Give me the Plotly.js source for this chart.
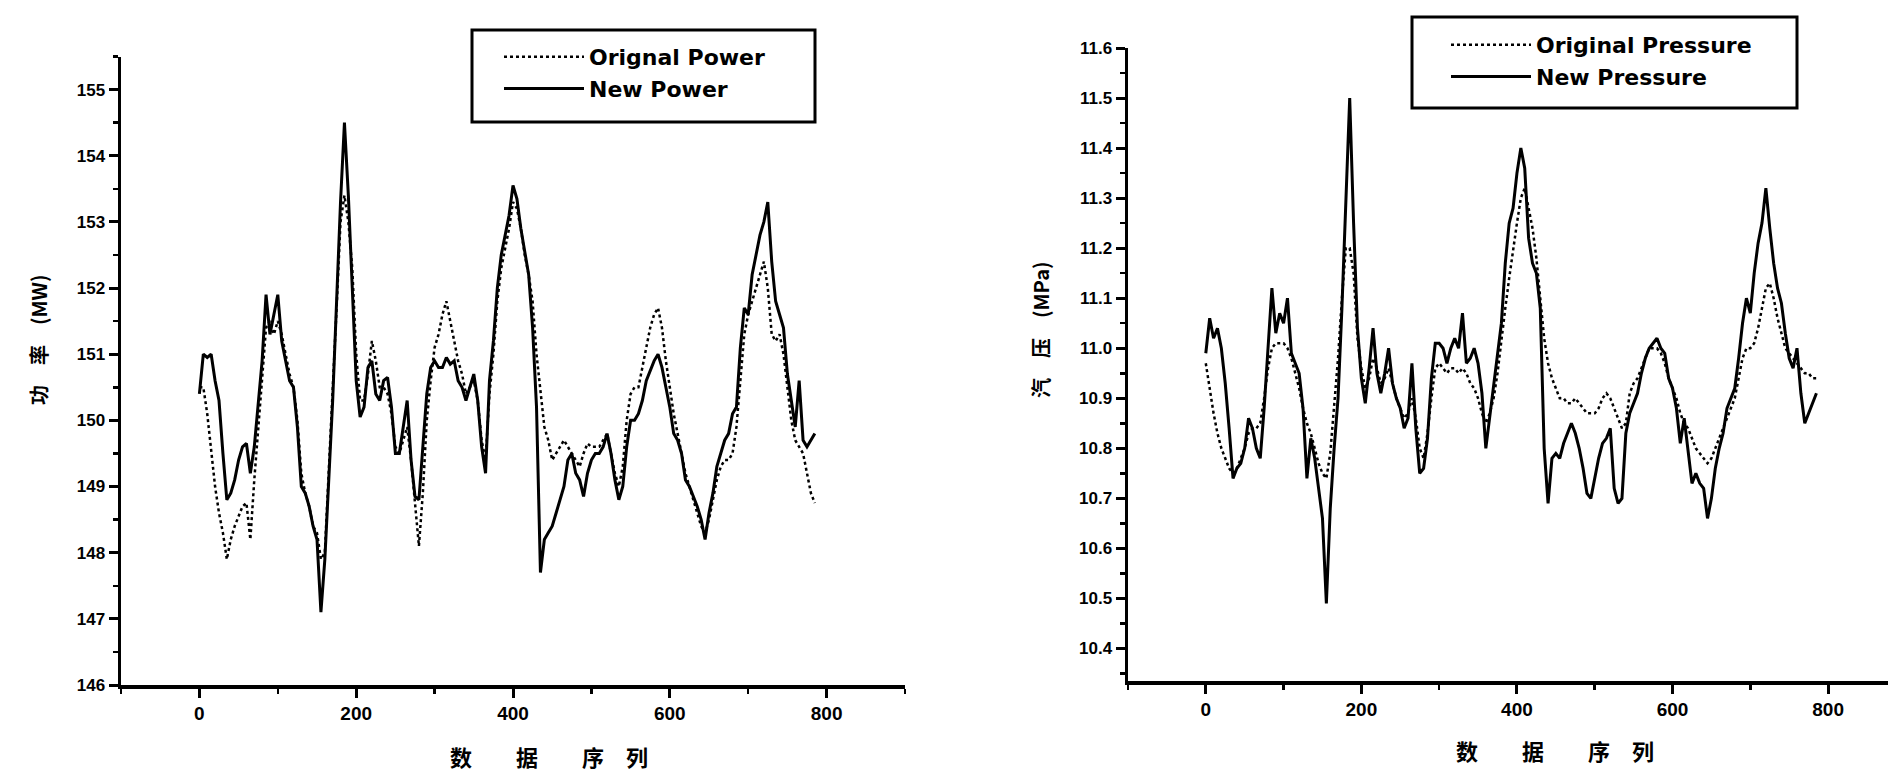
<!DOCTYPE html>
<html>
<head>
<meta charset="utf-8">
<script src="https://cdn.plot.ly/plotly-3.0.1.min.js"></script>
<style>html,body{margin:0;padding:0;background:#fff;}#chart{width:1888px;height:772px;}</style>
</head>
<body>
<div id="chart"></div>
<script>
// sample index: 0, 5, 10, ... 785
const sampleStart = 0;
const sampleStep = 5;

const originalPower = [
  150.5,150.5,150.1,149.5,149.0,148.6,148.3,147.9,148.2,148.4,
  148.55,148.7,148.75,148.2,149.1,149.9,150.7,151.4,151.5,151.3,
  151.5,151.3,151.0,150.7,150.5,150.0,149.2,148.9,148.7,148.4,
  148.3,147.9,148.0,149.2,150.3,151.7,153.0,153.4,153.0,152.3,
  151.0,150.3,150.3,150.7,151.2,150.9,150.5,150.5,150.4,150.1,
  149.6,149.5,149.7,149.9,149.4,148.8,148.1,148.9,150.0,150.6,
  151.1,151.3,151.6,151.8,151.5,151.2,150.9,150.7,150.4,150.5,
  150.6,150.3,149.7,149.4,150.4,151.0,151.8,152.3,152.6,152.9,
  153.3,153.2,152.9,152.5,152.2,151.8,151.0,150.4,149.9,149.7,
  149.4,149.5,149.6,149.7,149.6,149.5,149.4,149.3,149.5,149.65,
  149.6,149.6,149.6,149.7,149.8,149.5,149.2,149.0,149.3,150.0,
  150.4,150.5,150.5,150.8,151.1,151.4,151.6,151.7,151.4,150.9,
  150.5,150.1,149.8,149.5,149.2,149.0,148.8,148.6,148.4,148.3,
  148.5,148.8,149.1,149.3,149.4,149.4,149.5,149.9,150.6,151.3,
  151.6,151.8,152.0,152.2,152.4,152.0,151.3,151.2,151.3,151.0,
  150.5,150.0,149.7,149.6,149.5,149.2,148.9,148.75
];
const newPower = [
  150.4,151.0,150.95,151.0,150.6,150.3,149.5,148.8,148.9,149.1,
  149.4,149.6,149.65,149.2,149.6,150.2,150.9,151.9,151.3,151.6,
  151.9,151.2,150.9,150.6,150.5,149.9,149.0,148.9,148.7,148.4,
  148.2,147.1,147.9,149.1,150.3,151.8,153.3,154.5,153.4,152.0,
  150.6,150.05,150.2,150.8,150.9,150.4,150.3,150.6,150.65,150.2,
  149.5,149.5,149.9,150.3,149.4,148.85,148.8,149.6,150.4,150.8,
  150.9,150.8,150.8,150.95,150.85,150.9,150.6,150.5,150.3,150.5,
  150.7,150.3,149.6,149.2,150.6,151.2,152.0,152.5,152.8,153.1,
  153.55,153.35,152.9,152.55,152.2,151.4,150.2,147.7,148.2,148.3,
  148.4,148.6,148.8,149.0,149.4,149.5,149.2,149.1,148.85,149.2,
  149.4,149.5,149.5,149.6,149.8,149.5,149.1,148.8,149.0,149.6,
  150.0,150.0,150.1,150.3,150.6,150.75,150.9,151.0,150.8,150.5,
  150.2,149.8,149.7,149.5,149.1,149.0,148.85,148.7,148.5,148.2,
  148.6,148.9,149.3,149.5,149.7,149.8,150.1,150.2,151.1,151.7,
  151.6,152.2,152.5,152.8,153.0,153.3,152.4,151.8,151.6,151.4,
  150.7,150.3,149.9,150.6,149.7,149.6,149.7,149.8
];
const originalPressure = [
  10.97,10.92,10.87,10.83,10.80,10.78,10.76,10.75,10.76,10.78,
  10.80,10.83,10.84,10.84,10.85,10.90,10.96,11.00,11.01,11.01,
  11.01,11.00,10.98,10.95,10.92,10.88,10.85,10.83,10.80,10.77,
  10.75,10.74,10.79,10.88,10.98,11.10,11.20,11.20,11.15,11.02,
  10.96,10.92,10.94,10.98,10.96,10.93,10.94,10.96,10.93,10.90,
  10.88,10.86,10.87,10.90,10.86,10.80,10.78,10.83,10.90,10.96,
  10.97,10.96,10.95,10.96,10.96,10.95,10.96,10.95,10.93,10.92,
  10.90,10.87,10.85,10.87,10.90,10.95,11.02,11.08,11.14,11.20,
  11.25,11.30,11.32,11.28,11.24,11.18,11.10,11.02,10.97,10.94,
  10.92,10.90,10.90,10.89,10.89,10.90,10.89,10.88,10.87,10.87,
  10.87,10.88,10.90,10.91,10.90,10.88,10.86,10.84,10.85,10.91,
  10.93,10.94,10.96,10.98,11.00,11.00,11.00,10.99,10.97,10.94,
  10.92,10.90,10.87,10.85,10.84,10.82,10.80,10.79,10.78,10.77,
  10.78,10.80,10.82,10.84,10.86,10.88,10.90,10.94,10.98,11.00,
  11.00,11.01,11.04,11.08,11.12,11.13,11.10,11.06,11.03,11.00,
  10.99,10.98,10.97,10.96,10.95,10.95,10.94,10.94
];
const newPressure = [
  10.99,11.06,11.02,11.04,11.00,10.93,10.84,10.74,10.76,10.77,
  10.80,10.86,10.84,10.80,10.78,10.88,11.00,11.12,11.03,11.07,
  11.05,11.10,10.99,10.97,10.95,10.88,10.74,10.82,10.78,10.72,
  10.66,10.49,10.68,10.80,10.90,11.08,11.30,11.50,11.25,11.04,
  10.94,10.89,10.96,11.04,10.95,10.91,10.95,11.00,10.93,10.90,
  10.88,10.84,10.86,10.97,10.84,10.75,10.76,10.82,10.94,11.01,
  11.01,11.00,10.97,11.00,11.02,11.00,11.07,10.97,10.98,11.00,
  10.97,10.91,10.80,10.86,10.92,10.99,11.05,11.17,11.25,11.28,
  11.35,11.40,11.36,11.22,11.17,11.15,11.08,10.80,10.69,10.78,
  10.79,10.78,10.81,10.83,10.85,10.83,10.80,10.76,10.71,10.70,
  10.74,10.78,10.81,10.82,10.84,10.72,10.69,10.70,10.83,10.87,
  10.89,10.91,10.95,10.98,11.00,11.01,11.02,11.00,10.99,10.94,
  10.92,10.88,10.81,10.86,10.80,10.73,10.75,10.73,10.72,10.66,
  10.70,10.76,10.80,10.83,10.88,10.90,10.92,10.98,11.05,11.10,
  11.07,11.15,11.21,11.25,11.32,11.24,11.17,11.12,11.09,11.03,
  10.98,10.96,11.00,10.91,10.85,10.87,10.89,10.91
];

const powerTicks = [146,147,148,149,150,151,152,153,154,155];
const pressureTicks = [10.4,10.5,10.6,10.7,10.8,10.9,11.0,11.1,11.2,11.3,11.4,11.5,11.6];
const indexTicks = [0,200,400,600,800];

const legendPower = ['Orignal Power','New Power'];
const legendPressure = ['Original Pressure','New Pressure'];
const xTitle = '数\u3000\u3000据\u3000\u3000序\u3000列';
const yTitlePower = '功\u3000率\u3000(MW)';
const yTitlePressure = '汽\u3000压\u3000(MPa)';

const W = 1888, H = 772;
const px = v => v / W;
const py = v => 1 - v / H;

const latin = 'Liberation Sans, Arial, sans-serif';
const wide = 'DejaVu Sans, Liberation Sans, sans-serif';
const cjk = 'Noto Sans CJK SC, Liberation Sans, sans-serif';

const traces = [
  {x0: sampleStart, dx: sampleStep, y: originalPower, type:'scatter', mode:'lines', name: legendPower[0],
   line:{color:'#000', width:2.5, dash:'dot'}, xaxis:'x', yaxis:'y', legend:'legend'},
  {x0: sampleStart, dx: sampleStep, y: newPower, type:'scatter', mode:'lines', name: legendPower[1],
   line:{color:'#000', width:3}, xaxis:'x', yaxis:'y', legend:'legend'},
  {x0: sampleStart, dx: sampleStep, y: originalPressure, type:'scatter', mode:'lines', name: legendPressure[0],
   line:{color:'#000', width:2.5, dash:'dot'}, xaxis:'x2', yaxis:'y2', legend:'legend2'},
  {x0: sampleStart, dx: sampleStep, y: newPressure, type:'scatter', mode:'lines', name: legendPressure[1],
   line:{color:'#000', width:3}, xaxis:'x2', yaxis:'y2', legend:'legend2'}
];

function axisBase(){
  return {
    showline:true, linecolor:'#000', linewidth:3.5, mirror:false,
    showgrid:false, zeroline:false,
    ticks:'outside', ticklen:9, tickwidth:3, tickcolor:'#000',
    automargin:false, fixedrange:true
  };
}

const xa = Object.assign(axisBase(), {
  domain:[px(121), px(905)], range:[-100, 900], anchor:'y',
  tickvals: indexTicks, ticktext: indexTicks.map(String),
  tickfont:{family:latin, size:19, color:'#000', weight:'bold'},
  minor:{dtick:100, tick0:0, ticks:'outside', ticklen:5, tickwidth:2.5, tickcolor:'#000'}
});
const ya = Object.assign(axisBase(), {
  domain:[py(685), py(56.5)], range:[146, 155.5], anchor:'x',
  tickvals: powerTicks, ticktext: powerTicks.map(String),
  tickfont:{family:latin, size:17, color:'#000', weight:'bold'},
  minor:{dtick:0.5, tick0:146, ticks:'outside', ticklen:5, tickwidth:2.5, tickcolor:'#000'}
});
const xa2 = Object.assign(axisBase(), {
  domain:[px(1128), 1], range:[-100, 877], anchor:'y2',
  tickvals: indexTicks, ticktext: indexTicks.map(String),
  tickfont:{family:latin, size:19, color:'#000', weight:'bold'},
  minor:{dtick:100, tick0:0, ticks:'outside', ticklen:5, tickwidth:2.5, tickcolor:'#000'}
});
const ya2 = Object.assign(axisBase(), {
  domain:[py(681), py(48)], range:[10.335, 11.6], anchor:'x2',
  tickvals: pressureTicks, ticktext: pressureTicks.map(v => v.toFixed(1)),
  tickfont:{family:latin, size:17, color:'#000', weight:'bold'},
  minor:{dtick:0.05, tick0:10.4, ticks:'outside', ticklen:5, tickwidth:2.5, tickcolor:'#000'}
});

const legendStyle = {
  xanchor:'left', yanchor:'top', bgcolor:'rgba(0,0,0,0)', bordercolor:'rgba(0,0,0,0)', borderwidth:0,
  font:{family:wide, size:22, color:'#000', weight:'bold'}, itemwidth:80, tracegroupgap:0,
  orientation:'v'
};

const layout = {
  width:W, height:H, margin:{l:0, r:0, t:0, b:0, pad:0},
  paper_bgcolor:'#fff', plot_bgcolor:'#fff', showlegend:true,
  xaxis:xa, yaxis:ya, xaxis2:xa2, yaxis2:ya2,
  legend: Object.assign({}, legendStyle, {x:px(499), y:py(36)}),
  legend2: Object.assign({}, legendStyle, {x:px(1446), y:py(24)}),
  shapes:[
    {type:'rect', xref:'paper', yref:'paper', x0:px(472), x1:px(815), y0:py(122), y1:py(30),
     line:{color:'#000', width:3}, fillcolor:'rgba(0,0,0,0)', layer:'above'},
    {type:'rect', xref:'paper', yref:'paper', x0:px(1412), x1:px(1797), y0:py(108), y1:py(17),
     line:{color:'#000', width:3}, fillcolor:'rgba(0,0,0,0)', layer:'above'}
  ],
  annotations:[
    {text:xTitle, xref:'paper', yref:'paper', x:px(549), y:py(756), xanchor:'center', yanchor:'middle', showarrow:false,
     font:{family:cjk, size:22, color:'#000', weight:'bold'}},
    {text:xTitle, xref:'paper', yref:'paper', x:px(1555), y:py(750), xanchor:'center', yanchor:'middle', showarrow:false,
     font:{family:cjk, size:22, color:'#000', weight:'bold'}},
    {text:yTitlePower, xref:'paper', yref:'paper', x:px(38), y:py(340), xanchor:'center', yanchor:'middle', showarrow:false, textangle:-90,
     font:{family:cjk, size:20, color:'#000', weight:'bold'}},
    {text:yTitlePressure, xref:'paper', yref:'paper', x:px(1040), y:py(330), xanchor:'center', yanchor:'middle', showarrow:false, textangle:-90,
     font:{family:cjk, size:20, color:'#000', weight:'bold'}}
  ]
};

Plotly.newPlot('chart', traces, layout, {staticPlot:true, displayModeBar:false});
</script>
</body>
</html>
